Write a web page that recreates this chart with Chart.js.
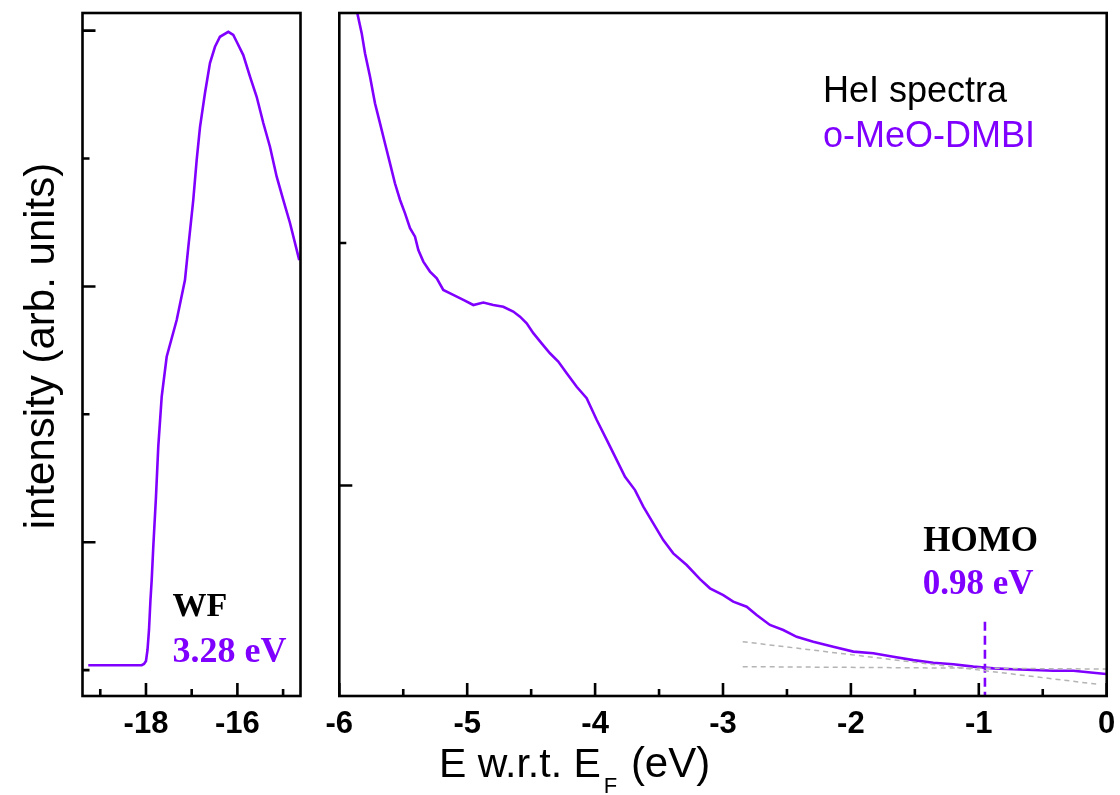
<!DOCTYPE html>
<html>
<head>
<meta charset="utf-8">
<script src="https://cdn.jsdelivr.net/npm/chart.js@4.4.1/dist/chart.umd.min.js"></script>
<style>
  html, body { margin: 0; padding: 0; background: #fff; }
  #wrap { position: relative; width: 1120px; height: 795px; }
  #wrap canvas { position: absolute; left: 0; top: 0; }
</style>
</head>
<body>
<div id="wrap">
  <canvas id="wfChart" width="1120" height="795"></canvas>
  <canvas id="vbChart" width="1120" height="795"></canvas>
</div>
<script>
// secondary electron cutoff (work function) region
const wfEnergy = [-19.263, -18.094, -18.044, -18.0, -17.967, -17.934, -17.902, -17.875, -17.840, -17.781,
  -17.731, -17.656, -17.547, -17.328, -17.147, -17.074, -16.965, -16.891, -16.818, -16.709,
  -16.600, -16.490, -16.381, -16.199, -16.090, -16.015, -15.871, -15.724, -15.578, -15.433,
  -15.287, -15.140, -14.996, -14.849, -14.646];
const wfIntensity = [1.038, 1.038, 1.048, 1.071, 1.157, 1.314, 1.548, 1.704, 1.965, 2.356,
  2.747, 3.138, 3.450, 3.737, 4.050, 4.308, 4.676, 4.988, 5.246, 5.512,
  5.747, 5.874, 5.952, 5.991, 5.966, 5.913, 5.809, 5.640, 5.483, 5.278,
  5.092, 4.858, 4.676, 4.496, 4.206];

// valence band region
const vbEnergy = [-5.880, -5.859, -5.825, -5.799, -5.760, -5.721, -5.682, -5.643, -5.604, -5.565,
  -5.525, -5.486, -5.447, -5.408, -5.382, -5.343, -5.291, -5.238, -5.187, -5.109,
  -5.030, -4.952, -4.874, -4.796, -4.718, -4.640, -4.587, -4.535, -4.483, -4.418,
  -4.353, -4.288, -4.222, -4.144, -4.066, -3.987, -3.909, -3.844, -3.766, -3.688,
  -3.623, -3.545, -3.467, -3.389, -3.284, -3.180, -3.102, -2.998, -2.920, -2.815,
  -2.737, -2.633, -2.529, -2.424, -2.294, -2.138, -1.981, -1.825, -1.668, -1.512,
  -1.356, -1.199, -1.043, -0.887, -0.730, -0.574, -0.418, -0.261, -0.105, -0.005];
const vbIntensity = [3.010, 2.947, 2.865, 2.782, 2.686, 2.576, 2.494, 2.411, 2.329, 2.246,
  2.177, 2.122, 2.061, 2.026, 1.971, 1.923, 1.882, 1.854, 1.806, 1.786,
  1.765, 1.744, 1.754, 1.744, 1.737, 1.717, 1.696, 1.669, 1.628, 1.586,
  1.545, 1.511, 1.463, 1.407, 1.360, 1.270, 1.188, 1.119, 1.036, 0.981,
  0.913, 0.844, 0.775, 0.720, 0.672, 0.614, 0.576, 0.548, 0.521, 0.500,
  0.466, 0.425, 0.404, 0.376, 0.356, 0.335, 0.315, 0.308, 0.294, 0.280,
  0.269, 0.263, 0.253, 0.246, 0.242, 0.239, 0.236, 0.236, 0.228, 0.223];

// linear fits used for the HOMO onset
const edgeFitX = [-2.846, -0.078];
const edgeFitY = [0.356, 0.181];
const baseFitX = [-2.846, 0.0];
const baseFitY = [0.253, 0.243];
const homoX = [-0.952, -0.952];
const homoY = [0.438, 0.132];

// ticks
const wfMajor = [-18, -16];
const wfMinor = [-19, -17, -15];
const wfYMajor = [2, 4, 6];
const wfYMinor = [1, 3, 5];
const vbMajor = [-6, -5, -4, -3, -2, -1, 0];
const vbMinor = [-5.5, -4.5, -3.5, -2.5, -1.5, -0.5];
const vbYMajor = [1];
const vbYMinor = [2];

const PURPLE = '#8000ff';

function pts(xs, ys) {
  return xs.map((v, i) => ({ x: v, y: ys[i] }));
}

// box frame with inward ticks, drawn from the chart scales
const frameTicks = {
  id: 'frameTicks',
  afterDraw(chart, args, opts) {
    const { ctx, chartArea: a } = chart;
    const x = chart.scales.x, y = chart.scales.y;
    ctx.save();
    ctx.strokeStyle = '#000';
    ctx.lineWidth = 2.6;
    ctx.beginPath();
    opts.xMajor.forEach(v => { const p = x.getPixelForValue(v); ctx.moveTo(p, a.bottom); ctx.lineTo(p, a.bottom - 13); });
    opts.xMinor.forEach(v => { const p = x.getPixelForValue(v); ctx.moveTo(p, a.bottom); ctx.lineTo(p, a.bottom - 7); });
    opts.yMajor.forEach(v => { const p = y.getPixelForValue(v); ctx.moveTo(a.left, p); ctx.lineTo(a.left + 13, p); });
    opts.yMinor.forEach(v => { const p = y.getPixelForValue(v); ctx.moveTo(a.left, p); ctx.lineTo(a.left + 7, p); });
    ctx.stroke();
    ctx.strokeRect(a.left, a.top, a.right - a.left, a.bottom - a.top);
    ctx.restore();
  }
};

// text labels placed in data coordinates
const notes = {
  id: 'notes',
  afterDraw(chart, args, opts) {
    const { ctx } = chart;
    const x = chart.scales.x, y = chart.scales.y;
    ctx.save();
    ctx.textAlign = 'left';
    ctx.textBaseline = 'alphabetic';
    (opts.items || []).forEach(it => {
      ctx.font = it.font;
      ctx.fillStyle = it.color;
      ctx.fillText(it.text, x.getPixelForValue(it.x), y.getPixelForValue(it.y));
    });
    if (opts.yTitle) {
      ctx.translate(opts.yTitle.px, opts.yTitle.py);
      ctx.rotate(-Math.PI / 2);
      ctx.textAlign = 'center';
      ctx.font = opts.yTitle.font;
      ctx.fillStyle = '#000';
      ctx.fillText(opts.yTitle.text, 0, 0);
    }
    ctx.restore();
  }
};

// x title with subscript F, spanning the figure
const xTitle = {
  id: 'xTitle',
  afterDraw(chart) {
    const { ctx } = chart;
    ctx.save();
    ctx.fillStyle = '#000';
    ctx.textBaseline = 'alphabetic';
    ctx.textAlign = 'left';
    const big = '41px "Liberation Sans", Arial, sans-serif';
    const sub = '22px "Liberation Sans", Arial, sans-serif';
    const base = 777;
    let x0 = 439;
    ctx.font = big; ctx.fillText('E w.r.t. E', x0, base); x0 += ctx.measureText('E w.r.t. E').width + 3;
    ctx.font = sub; ctx.fillText('F', x0, base + 16); x0 += ctx.measureText('F').width + 2;
    ctx.font = '42px "Liberation Sans", Arial, sans-serif'; ctx.fillText(' (eV)', x0, base);
    ctx.restore();
  }
};

const tickFont = { family: '"Liberation Sans", Arial, sans-serif', size: 31, weight: 'bold' };

function makeScales(xmin, xmax, major, ymin, ymax) {
  return {
    x: {
      type: 'linear', min: xmin, max: xmax,
      afterBuildTicks: s => { s.ticks = major.map(v => ({ value: v })); },
      afterFit: s => { s.height = 60; s.paddingLeft = 0; s.paddingRight = 0; },
      grid: { display: false, drawTicks: false },
      border: { display: false },
      ticks: { color: '#000', font: tickFont, padding: 10, maxRotation: 0, autoSkip: false }
    },
    y: {
      type: 'linear', min: ymin, max: ymax,
      afterFit: s => { s.width = 0; s.paddingTop = 0; s.paddingBottom = 0; },
      grid: { display: false, drawTicks: false },
      border: { display: false },
      ticks: { display: false }
    }
  };
}

const common = {
  responsive: false,
  animation: false,
  events: []
};

new Chart(document.getElementById('wfChart'), {
  type: 'line',
  data: {
    datasets: [{
      data: pts(wfEnergy, wfIntensity),
      borderColor: PURPLE, borderWidth: 2.6, pointRadius: 0, tension: 0
    }]
  },
  options: Object.assign({}, common, {
    layout: { padding: { left: 82.5, right: 819.5, top: 13, bottom: 39 } },
    scales: makeScales(-19.389, -14.619, wfMajor, 0.7975, 6.138),
    plugins: {
      legend: { display: false }, tooltip: { enabled: false },
      frameTicks: { xMajor: wfMajor, xMinor: wfMinor, yMajor: wfYMajor, yMinor: wfYMinor },
      notes: {
        items: [
          { text: 'WF', x: -17.42, y: 1.423, font: 'bold 34px "Liberation Serif", "Times New Roman", serif', color: '#000' },
          { text: '3.28 eV', x: -17.42, y: 1.066, font: 'bold 36px "Liberation Serif", "Times New Roman", serif', color: PURPLE }
        ],
        yTitle: { text: 'intensity (arb. units)', px: 54, py: 346, font: '42px "Liberation Sans", Arial, sans-serif' }
      }
    }
  }),
  plugins: [frameTicks, notes]
});

new Chart(document.getElementById('vbChart'), {
  type: 'line',
  data: {
    datasets: [
      { data: pts(edgeFitX, edgeFitY), borderColor: '#b4b4b4', borderWidth: 1.5, borderDash: [5, 4], pointRadius: 0 },
      { data: pts(baseFitX, baseFitY), borderColor: '#b4b4b4', borderWidth: 1.5, borderDash: [5, 4], pointRadius: 0 },
      { data: pts(vbEnergy, vbIntensity), borderColor: PURPLE, borderWidth: 2.6, pointRadius: 0, tension: 0 },
      { data: pts(homoX, homoY), borderColor: PURPLE, borderWidth: 2.6, borderDash: [9, 5], pointRadius: 0 }
    ]
  },
  options: Object.assign({}, common, {
    layout: { padding: { left: 339.3, right: 13.3, top: 13, bottom: 39 } },
    scales: makeScales(-6, 0, vbMajor, 0.132, 2.948),
    plugins: {
      legend: { display: false }, tooltip: { enabled: false },
      frameTicks: { xMajor: vbMajor, xMinor: vbMinor, yMajor: vbYMajor, yMinor: vbYMinor },
      notes: {
        items: [
          { text: 'HeI spectra', x: -2.218, y: 2.583, font: '36px "Liberation Sans", Arial, sans-serif', color: '#000' },
          { text: 'o-MeO-DMBI', x: -2.218, y: 2.397, font: '36px "Liberation Sans", Arial, sans-serif', color: PURPLE },
          { text: 'HOMO', x: -1.434, y: 0.731, font: 'bold 35px "Liberation Serif", "Times New Roman", serif', color: '#000' },
          { text: '0.98 eV', x: -1.439, y: 0.551, font: 'bold 35px "Liberation Serif", "Times New Roman", serif', color: PURPLE }
        ]
      }
    }
  }),
  plugins: [frameTicks, notes, xTitle]
});
</script>
</body>
</html>
